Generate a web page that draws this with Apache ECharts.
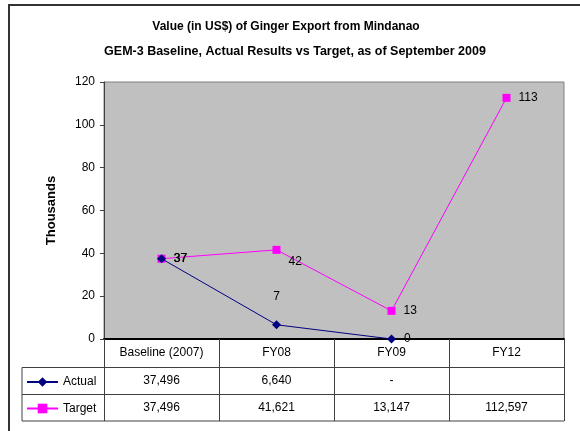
<!DOCTYPE html>
<html>
<head>
<meta charset="utf-8">
<script src="https://cdn.jsdelivr.net/npm/echarts@6/dist/echarts.min.js"></script>
<style>
  html, body { margin: 0; padding: 0; background: #fff; }
  #main { width: 580px; height: 431px; }
</style>
</head>
<body>
<div id="main"></div>
<script>
// values in thousands of US$
var categories = ['Baseline (2007)', 'FY08', 'FY09', 'FY12'];
var actualValues = [37.496, 6.640, 0, null];
var targetValues = [37.496, 41.621, 13.147, 112.597];
var yTicks = [0, 20, 40, 60, 80, 100, 120];
var seriesNames = ['Actual', 'Target'];

var FONT = '"Liberation Sans", Arial, sans-serif';

// table cell text, like the spreadsheet shows it
function cellText(v) {
    if (v === null || v === undefined) return '';
    if (v === 0) return '-';
    return Math.round(v * 1000).toLocaleString('en-US');
}

function labelFor(i, name) {
    var lb = { show: true, position: 'right', distance: 8, color: '#000', fontSize: 12, fontFamily: FONT };
    if (name == 'Actual' && i == 1) {
        lb.position = 'top';
        lb.distance = 18;
    }
    if (name == 'Target' && i == 1) {
        lb.offset = [0, 12];
    }
    return lb;
}

function buildData(vals, name) {
    var res = [];
    for (var i = 0; i < vals.length; i++) {
        res.push({ value: vals[i], label: labelFor(i, name) });
    }
    return res;
}

var myChart = echarts.init(document.getElementById('main'));

var option = {
    backgroundColor: '#fff',
    animation: false,
    textStyle: { fontFamily: FONT },
    title: [{
        text: 'Value (in US$) of Ginger Export from Mindanao',
        left: 281, top: 16, textAlign: 'center',
        textStyle: { fontSize: 12, fontWeight: 'bold', color: '#000', fontFamily: FONT }
    }, {
        text: 'GEM-3 Baseline, Actual Results vs Target, as of September 2009',
        left: 290, top: 40, textAlign: 'center',
        textStyle: { fontSize: 12.5, fontWeight: 'bold', color: '#000', fontFamily: FONT }
    }],
    legend: {
        orient: 'vertical',
        left: 26, top: 376,
        padding: 0,
        itemWidth: 31, itemHeight: 12,
        itemGap: 14.5,
        data: seriesNames,
        textStyle: { fontSize: 12, color: '#000', fontFamily: FONT }
    },
    grid: {
        left: 104, right: 16, top: 82, bottom: 92,
        show: true,
        backgroundColor: '#C0C0C0',
        borderColor: '#808080',
        borderWidth: 1
    },
    xAxis: {
        type: 'category',
        data: categories,
        boundaryGap: true,
        axisLine: { lineStyle: { color: '#000', width: 2 } },
        axisTick: { show: true, interval: 0, length: 82, lineStyle: { color: '#404040', width: 1 } },
        axisLabel: { interval: 0, margin: 8, color: '#000', fontSize: 12, fontFamily: FONT },
        splitLine: { show: false }
    },
    yAxis: {
        type: 'value',
        min: yTicks[0], max: yTicks[yTicks.length - 1], interval: 20,
        name: 'Thousands',
        nameLocation: 'middle',
        nameGap: 46,
        nameTextStyle: { fontSize: 13, fontWeight: 'bold', color: '#000', fontFamily: FONT },
        axisLine: { show: true, lineStyle: { color: '#404040', width: 1 } },
        axisTick: { show: true, length: 4, lineStyle: { color: '#404040' } },
        axisLabel: { margin: 9, color: '#000', fontSize: 12, fontFamily: FONT },
        splitLine: { show: false }
    },
    series: [{
        name: 'Actual',
        type: 'line',
        data: buildData(actualValues, 'Actual'),
        color: '#000080',
        symbol: 'diamond',
        symbolSize: 9,
        lineStyle: { width: 1, color: '#000080' },
        itemStyle: { color: '#000080' },
        label: { formatter: function (p) { return Math.round(p.value); } },
        z: 3
    }, {
        name: 'Target',
        type: 'line',
        data: buildData(targetValues, 'Target'),
        color: '#FF00FF',
        symbol: 'rect',
        symbolSize: 8,
        lineStyle: { width: 1, color: '#FF00FF' },
        itemStyle: { color: '#FF00FF' },
        label: { formatter: function (p) { return Math.round(p.value); } },
        z: 2
    }]
};

myChart.setOption(option);

// data table under the plot, positions taken from the axis
function drawTable() {
    var els = [];
    var lineStyle = { stroke: '#404040', lineWidth: 1 };
    var left = 22, right = 564;
    var rowTops = [367.5, 394.5, 421];
    for (var r = 0; r < rowTops.length; r++) {
        els.push({ type: 'line', shape: { x1: left, y1: rowTops[r], x2: right, y2: rowTops[r] }, style: lineStyle, z: 10 });
    }
    els.push({ type: 'line', shape: { x1: left, y1: rowTops[0], x2: left, y2: rowTops[2] }, style: lineStyle, z: 10 });

    var rows = [actualValues, targetValues];
    for (var s = 0; s < rows.length; s++) {
        var yc = (rowTops[s] + rowTops[s + 1]) / 2;
        for (var i = 0; i < categories.length; i++) {
            var px = myChart.convertToPixel({ xAxisIndex: 0 }, categories[i]);
            els.push({
                type: 'text', x: px, y: yc, z: 10,
                style: { text: cellText(rows[s][i]), fill: '#000', font: '12px ' + FONT, align: 'center', verticalAlign: 'middle' }
            });
        }
    }
    // outer chart frame (top and left visible)
    els.push({ type: 'polyline', shape: { points: [[9, 431], [9, 5], [580, 5]] }, style: { stroke: '#333', lineWidth: 2, fill: null }, z: 10 });
    myChart.setOption({ graphic: els });
}
drawTable();
</script>
</body>
</html>
